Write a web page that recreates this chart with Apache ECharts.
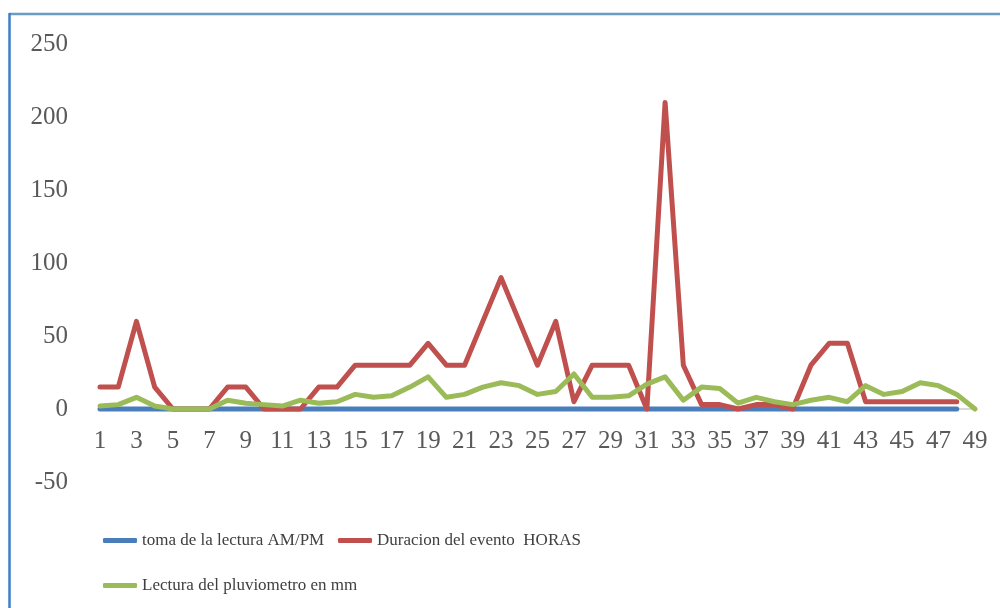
<!DOCTYPE html>
<html>
<head>
<meta charset="utf-8">
<script src="https://cdn.jsdelivr.net/npm/echarts@6/dist/echarts.min.js"></script>
<style>
  html, body { margin: 0; padding: 0; background: #ffffff; }
  #chart { width: 1000px; height: 608px; }
</style>
</head>
<body>
<div id="chart"></div>
<script>
// Rain-gauge log: one reading per event
const categories = ['1','2','3','4','5','6','7','8','9','10','11','12','13','14','15','16','17','18','19','20',
  '21','22','23','24','25','26','27','28','29','30','31','32','33','34','35','36','37','38','39','40',
  '41','42','43','44','45','46','47','48','49'];

// time of reading (AM/PM) – flat at zero
const tomaLectura = [0,0,0,0,0,0,0,0,0,0,0,0,0,0,0,0,0,0,0,0,0,0,0,0,0,0,0,0,0,0,0,0,0,0,0,0,0,0,0,0,0,0,0,0,0,0,0,0,null];

// event duration in hours
const duracionHoras = [15,15,60,15,0,0,0,15,15,0,0,0,15,15,30,30,30,30,45,30,30,60,90,60,30,60,5,30,30,30,
  0,210,30,3,3,0,3,3,0,30,45,45,5,5,5,5,5,5,null];

// rain gauge reading in mm
const pluviometroMm = [2,3,8,2,0,0,0,6,4,3,2,6,4,5,10,8,9,15,22,8,10,15,18,16,10,12,24,8,8,9,
  17,22,6,15,14,4,8,5,3,6,8,5,16,10,12,18,16,10,0];

const seriesNames = ['toma de la lectura AM/PM', 'Duracion del evento  HORAS', 'Lectura del pluviometro en mm'];
const yTicks = { min: -50, max: 250, step: 50 };

const FONT = '"Liberation Serif", "DejaVu Serif", serif';
const chart = echarts.init(document.getElementById('chart'), null, { renderer: 'canvas' });

const GRID = { left: 100, right: 25, top: 44, bottom: 126 };
const PLOT_H = 608 - GRID.top - GRID.bottom;
// distance from the plot's bottom edge up to the zero line
const zeroLift = PLOT_H * (0 - yTicks.min) / (yTicks.max - yTicks.min);

function lineSeries(name, data, color) {
  return {
    name: name,
    type: 'line',
    data: data,
    showSymbol: false,
    symbol: 'none',
    smooth: false,
    connectNulls: false,
    lineStyle: { color: color, width: 5, cap: 'round', join: 'round' },
    itemStyle: { color: color },
    emphasis: { disabled: true },
    z: 3
  };
}

const legendText = { fontFamily: FONT, fontSize: 17, color: '#404040' };
function legendItem(name, left, top) {
  return {
    data: [name],
    left: left, top: top,
    orient: 'horizontal',
    icon: 'roundRect',
    itemWidth: 34, itemHeight: 5,
    textStyle: legendText,
    selectedMode: false
  };
}

chart.setOption({
  animation: false,
  backgroundColor: '#ffffff',
  grid: Object.assign({ containLabel: false }, GRID),
  xAxis: {
    type: 'category',
    data: categories,
    boundaryGap: false,
    offset: -zeroLift,
    axisLine: { onZero: false, lineStyle: { color: '#d9d9d9', width: 2 } },
    axisTick: { show: false },
    axisLabel: { interval: 1, margin: 20, fontFamily: FONT, fontSize: 25, color: '#595959' },
    splitLine: { show: false }
  },
  yAxis: {
    type: 'value',
    min: yTicks.min,
    max: yTicks.max,
    interval: yTicks.step,
    axisLine: { show: false },
    axisTick: { show: false },
    splitLine: { show: false },
    axisLabel: { margin: 32, fontFamily: FONT, fontSize: 25, color: '#595959' }
  },
  legend: [
    legendItem(seriesNames[0], 98, 527),
    legendItem(seriesNames[1], 333, 527),
    legendItem(seriesNames[2], 98, 572)
  ],
  graphic: [
    // chart frame: top and left edges
    { type: 'line', shape: { x1: 9, y1: 14, x2: 1000, y2: 14 }, style: { stroke: '#6a9dc4', lineWidth: 2.5 }, silent: true },
    { type: 'line', shape: { x1: 9.5, y1: 13, x2: 9.5, y2: 608 }, style: { stroke: '#3d7fc6', lineWidth: 2.5 }, silent: true }
  ],
  series: [
    lineSeries(seriesNames[0], tomaLectura, '#4a7ebb'),
    lineSeries(seriesNames[1], duracionHoras, '#c0504d'),
    lineSeries(seriesNames[2], pluviometroMm, '#9bbb59')
  ]
});
</script>
</body>
</html>
